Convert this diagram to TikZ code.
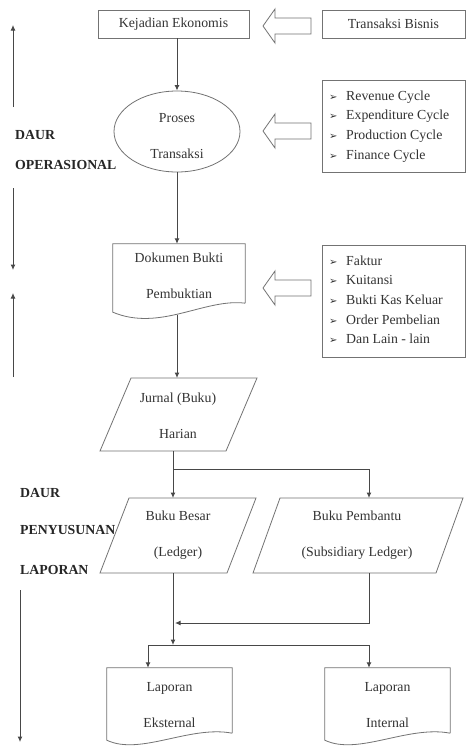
\documentclass[tikz,border=0pt]{standalone}
\usepackage{fontspec}
\setmainfont{Liberation Serif}
\newfontfamily\symfont{DejaVu Sans}
\usetikzlibrary{arrows.meta,shapes.geometric,calc}
\newcommand{\bul}{\makebox[17pt][l]{\symfont\fontsize{10}{8}\selectfont ➢}}
\tikzset{
 shp/.style={draw=black!55, line width=0.8pt},
 conn/.style={draw=black!72, line width=1pt, -{Latex[length=5.5pt,width=5pt]}},
 plain/.style={draw=black!72, line width=1pt},
 txt/.style={font=\fontsize{13.8}{36}\selectfont, text=black!80, align=center, inner sep=0pt},
 lbl/.style={font=\fontsize{13.8}{16}\selectfont\bfseries, text=black!85, anchor=west, inner sep=0pt},
 lst/.style={font=\fontsize{13.8}{19.6}\selectfont, text=black!80, align=left, anchor=north west, inner sep=0pt},
 hollowarrow/.pic={\draw[shp, fill=white] (0,0) -- (12,-17) -- (12,-8) -- (48,-8) -- (48,8) -- (12,8) -- (12,17) -- cycle;}
}
\begin{document}
\begin{tikzpicture}[x=1pt,y=-1pt]
\useasboundingbox[fill=white] (0,0) rectangle (466,747);

% top row
\node[shp, txt, minimum width=151pt, minimum height=28pt] (kej) at (173.5,24) {Kejadian Ekonomis};
\node[shp, txt, minimum width=143pt, minimum height=28pt] (tb) at (393.5,24) {Transaksi Bisnis};
\pic at (263,26) {hollowarrow};

% ellipse
\node[shp, ellipse, minimum width=126pt, minimum height=81pt, inner sep=0pt] (ell) at (177,131.5) {};
\node[txt] (ellt) at (177,136) {Proses\\Transaksi};
\node[shp, minimum width=143pt, minimum height=92pt, inner sep=0pt] (lb1) at (393.5,126) {};
\node[lst] (l1) at (329,90.5) {\bul Revenue Cycle\\\bul Expenditure Cycle\\\bul Production Cycle\\\bul Finance Cycle};
\pic at (263,131) {hollowarrow};

% document
\node[minimum width=132pt, minimum height=59pt, inner sep=0pt] (doc) at (179,273.5) {};
\draw[shp] (doc.south east) -- (doc.north east) -- (doc.north west) -- ($(doc.south west)+(0,9)$)
  .. controls (160,332) and (205,298) .. (doc.south east);
\node[txt] (doct) at (179,276) {Dokumen Bukti\\Pembuktian};
\node[shp, minimum width=143pt, minimum height=112pt, inner sep=0pt] (lb2) at (393.5,301) {};
\node[lst] (l2) at (329,255.5) {\bul Faktur\\\bul Kuitansi\\\bul Bukti Kas Keluar\\\bul Order Pembelian\\\bul Dan Lain - lain};
\pic at (263,288) {hollowarrow};

% connectors upper chain
\draw[conn] (ell.north |- kej.south) -- (ell.north);
\draw[conn] (ell.south) -- (ell.south |- doc.north);
\coordinate (dw) at (177,315);
\coordinate (jt) at (177,378);
\draw[conn] (dw) -- (jt);

% Jurnal
\draw[shp] (131,378) -- (257,378) -- (226,451) -- (100,451) -- cycle;
\node[txt] (jur) at (178,415.5) {Jurnal (Buku)\\Harian};
\coordinate (jb) at (173,451);

% Buku Besar / Pembantu
\draw[shp] (129,498) -- (256,498) -- (227,573) -- (100,573) -- cycle;
\node[txt] (bb) at (178,535) {Buku Besar\\(Ledger)};
\draw[shp] (280,498) -- (463,498) -- (436,573) -- (253,573) -- cycle;
\node[txt] (bp) at (357,535) {Buku Pembantu\\(Subsidiary Ledger)};
\coordinate (bbt) at (173,498);
\coordinate (bbb) at (173,573);
\coordinate (bpt) at (369,498);
\coordinate (bpb) at (369,573);
\draw[conn] (jb) -- (bbt);
\draw[conn] ($(jb)+(0,18)$) -| (bpt);

% Laporan docs
\node[minimum width=125pt, minimum height=65pt, inner sep=0pt] (le) at (169.5,700.5) {};
\draw[shp] (le.south east) -- (le.north east) -- (le.north west) -- ($(le.south west)+(0,7)$)
  .. controls (140,756) and (190,725) .. (le.south east);
\node[txt] (let) at (169.5,705) {Laporan\\Eksternal};
\node[minimum width=125pt, minimum height=65pt, inner sep=0pt] (li) at (387.5,700.5) {};
\draw[shp] (li.south east) -- (li.north east) -- (li.north west) -- ($(li.south west)+(0,7)$)
  .. controls (358,756) and (408,725) .. (li.south east);
\node[txt] (lit) at (387.5,705) {Laporan\\Internal};

\coordinate (mg) at (175,623);
\coordinate (sp) at (173,645);
\coordinate (a1) at (148,645);
\coordinate (a2) at (369,645);
\draw[conn] (bbb) -- (sp);
\draw[conn] (bpb) |- (mg);
\draw[plain] (a1) -- (a2);
\draw[conn] (a1) -- (a1 |- le.north);
\draw[conn] (a2) -- (a2 |- li.north);

% left side
\coordinate (u1a) at (13,107); \coordinate (u1b) at (13,25);
\coordinate (d1a) at (13,188); \coordinate (d1b) at (13,270);
\coordinate (u2a) at (13,377); \coordinate (u2b) at (13,293);
\coordinate (d2a) at (20,590); \coordinate (d2b) at (20,742);
\draw[conn] (u1a) -- (u1b);
\draw[conn] (d1a) -- (d1b);
\draw[conn] (u2a) -- (u2b);
\draw[conn] (d2a) -- (d2b);
\node[lbl] (t1) at (15,135) {DAUR};
\node[lbl] (t2) at (15,165) {OPERASIONAL};
\node[lbl] (t3) at (20,493) {DAUR};
\node[lbl] (t4) at (20,530) {PENYUSUNAN};
\node[lbl] (t5) at (20,570) {LAPORAN};
\end{tikzpicture}
\end{document}
